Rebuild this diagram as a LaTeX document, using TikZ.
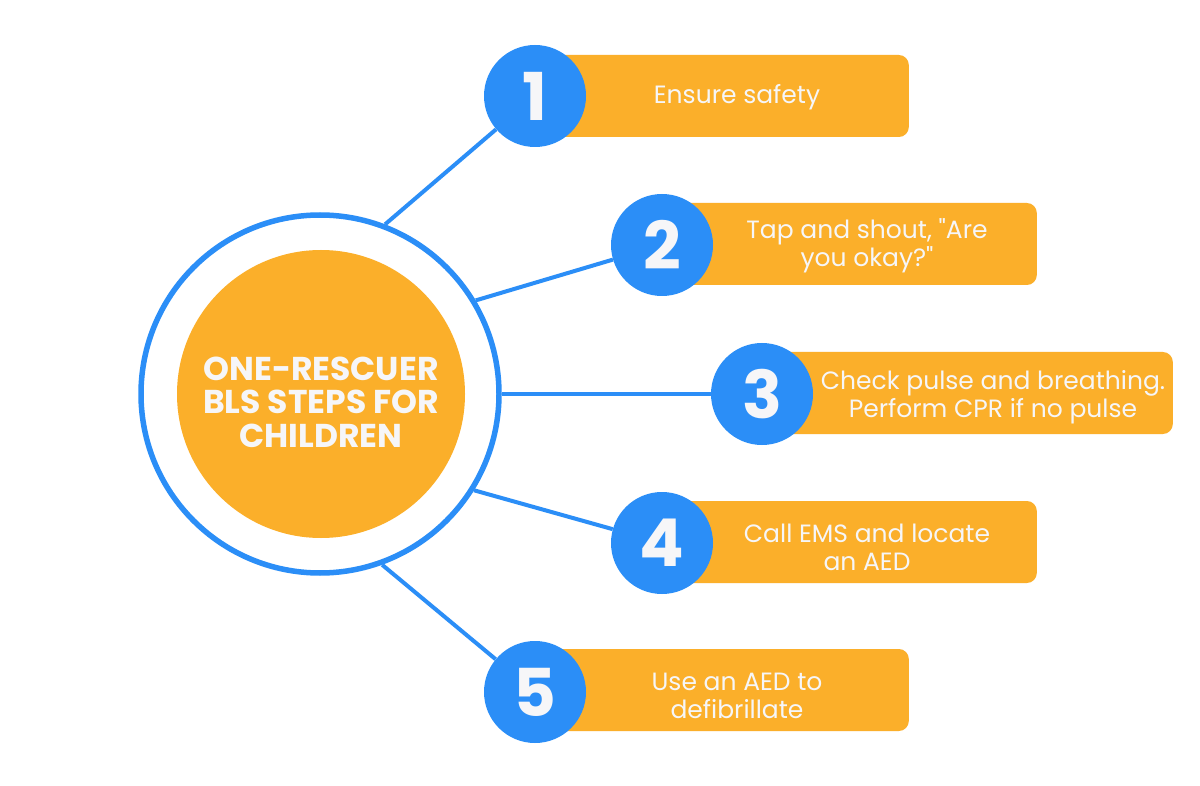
\documentclass[tikz,border=0pt]{standalone}
\usepackage{fontspec}
\usetikzlibrary{backgrounds}
\setmainfont{Poppins}
\newfontfamily\popfont{Poppins}
\definecolor{bblue}{HTML}{2B8EF7}
\definecolor{borange}{HTML}{FBAF2A}
\definecolor{wtext}{HTML}{F6F6F8}
\tikzset{
  conn/.style={draw=bblue, line width=4pt},
  ring/.style={circle, draw=bblue, line width=5.5pt, fill=white, minimum size=358pt, inner sep=0pt},
  core/.style={circle, fill=borange, minimum size=288pt, inner sep=0pt},
  coretext/.style={text=wtext, inner sep=0pt,
    font=\popfont\bfseries\fontsize{33}{33.5}\selectfont, align=center},
  badge/.style={circle, fill=bblue, minimum size=102pt, inner sep=0pt, text=wtext,
    font=\popfont\bfseries\fontsize{66}{66}\selectfont},
  stepbox/.style={rectangle, rounded corners=10pt, fill=borange, minimum height=82pt, inner sep=0pt, anchor=east},
  steptext/.style={text=wtext, font=\popfont\fontsize{25}{28}\selectfont, align=center, inner sep=0pt}
}
\begin{document}
\begin{tikzpicture}[x=1pt,y=-1pt]
\begin{scope}[on background layer]
\fill[white] (0,0) rectangle (1200,786);
\end{scope}
\useasboundingbox (0,0) rectangle (1200,786);
% step boxes
\node[stepbox, minimum width=374pt] (r1) at (909,96) {};
\node[stepbox, minimum width=375pt] (r2) at (1037,244) {};
\node[stepbox, minimum width=411pt] (r3) at (1173,393) {};
\node[stepbox, minimum width=375pt] (r4) at (1037,542) {};
\node[stepbox, minimum width=374pt] (r5) at (909,690) {};
% central ring
\node[ring] (ring) at (320,394) {};
% badges
\node[badge] (b1) at (535,96) {1};
\node[badge] (b2) at (662,245) {2};
\node[badge] (b3) at (762,394) {3};
\node[badge] (b4) at (662,543) {4};
\node[badge] (b5) at (535,692) {5};
% connectors
\begin{scope}[on background layer]
\draw[conn] (ring.69.5) -- (b1);
\draw[conn] (ring.31.3) -- (b2);
\draw[conn] (ring.0) -- (b3);
\draw[conn] (ring.-32.8) -- (b4);
\draw[conn] (ring.-70.8) -- (b5);
\end{scope}
% core
\node[core] (core) at (321,394) {};
\node[coretext] (title) at (321,402) {ONE-RESCUER\\BLS STEPS FOR\\CHILDREN};
% texts
\node[steptext] (t1) at (737,97) {Ensure safety};
\node[steptext] (t2) at (867,246) {Tap and shout, "Are\\you okay?"};
\node[steptext] (t3) at (993,397) {Check pulse and breathing.\\Perform CPR if no pulse};
\node[steptext] (t4) at (867,547) {Call EMS and locate\\an AED};
\node[steptext] (t5) at (737,696) {Use an AED to\\defibrillate};
\end{tikzpicture}
\end{document}
